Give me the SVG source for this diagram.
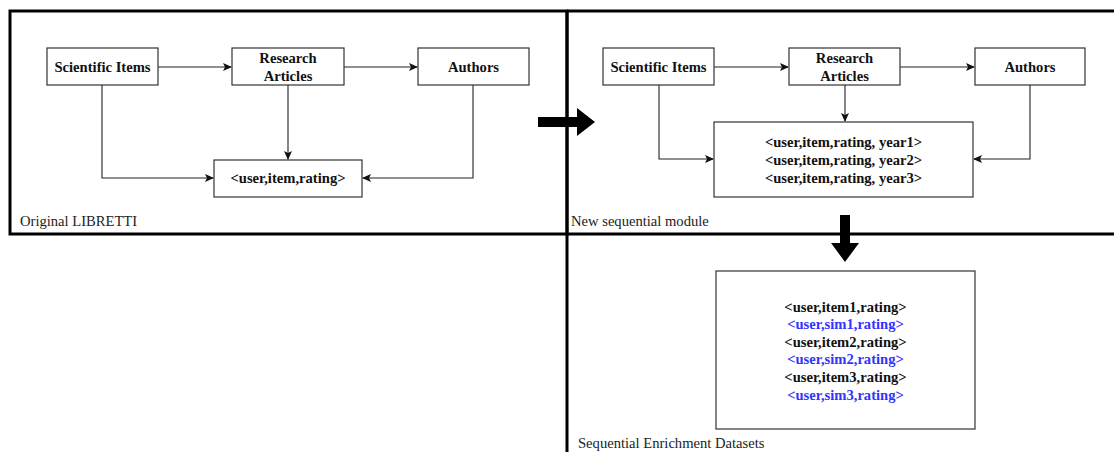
<svg xmlns="http://www.w3.org/2000/svg" width="1114" height="452" viewBox="0 0 1114 452">
<style>
.frame{fill:none;stroke:#000;stroke-width:3}
.node{fill:#fff;stroke:#333;stroke-width:1.2}
.t{font-family:"Liberation Serif",serif;font-weight:bold;font-size:14.6px;fill:#111;text-anchor:middle}
.b{fill:#3333ff}
.lbl{font-family:"Liberation Serif",serif;font-size:14.6px;fill:#222}
.edge{fill:none;stroke:#222;stroke-width:1.1}
.big{fill:#000;stroke:none}
</style>
<defs>
<marker id="ah" markerWidth="10" markerHeight="8" refX="8" refY="4" orient="auto" markerUnits="userSpaceOnUse">
<path d="M0,0 L9,4 L0,8 L2,4 Z" fill="#111"/>
</marker>
</defs>
<rect width="1114" height="452" fill="#fff"/>
<g id="frames">
<rect class="frame" x="10" y="11" width="557" height="223"/>
<line class="frame" x1="567" y1="11" x2="1114" y2="11"/>
<line class="frame" x1="567" y1="234" x2="1114" y2="234"/>
<line class="frame" x1="567" y1="11" x2="567" y2="452"/>
</g>
<g id="labels">
<text class="lbl" x="20" y="226">Original LIBRETTI</text>
<text class="lbl" x="571" y="226">New sequential module</text>
<text class="lbl" x="578" y="448">Sequential Enrichment Datasets</text>
</g>
<g id="connectors">
<line class="edge" x1="158" y1="67" x2="231" y2="67" marker-end="url(#ah)"/>
<line class="edge" x1="344" y1="67" x2="417" y2="67" marker-end="url(#ah)"/>
<polyline class="edge" points="102,85 102,178 213,178" marker-end="url(#ah)"/>
<line class="edge" x1="288" y1="85" x2="288" y2="159" marker-end="url(#ah)"/>
<polyline class="edge" points="473,85 473,178 363,178" marker-end="url(#ah)"/>
<line class="edge" x1="714" y1="67" x2="788" y2="67" marker-end="url(#ah)"/>
<line class="edge" x1="900" y1="67" x2="974" y2="67" marker-end="url(#ah)"/>
<polyline class="edge" points="659,85 659,159 713,159" marker-end="url(#ah)"/>
<line class="edge" x1="845" y1="85" x2="845" y2="121" marker-end="url(#ah)"/>
<polyline class="edge" points="1030,85 1030,159 974,159" marker-end="url(#ah)"/>
<path class="big" d="M538,117 L577,117 L577,108 L595,122 L577,136 L577,127 L538,127 Z"/>
<path class="big" d="M840,215 L850,215 L850,243 L859,243 L845,262 L831,243 L840,243 Z"/>
</g>
<g id="l-si"><rect class="node" x="47" y="48" width="111" height="37"/><text class="t" x="102.5" y="72">Scientific Items</text></g>
<g id="l-ra"><rect class="node" x="232" y="48" width="112" height="37"/><text class="t" x="288" y="63">Research</text><text class="t" x="288" y="81">Articles</text></g>
<g id="l-au"><rect class="node" x="418" y="48" width="111" height="37"/><text class="t" x="473.5" y="72">Authors</text></g>
<g id="l-uir"><rect class="node" x="214" y="160" width="148" height="37"/><text class="t" x="288" y="183">&lt;user,item,rating&gt;</text></g>
<g id="r-si"><rect class="node" x="603" y="48" width="111" height="37"/><text class="t" x="658.5" y="72">Scientific Items</text></g>
<g id="r-ra"><rect class="node" x="789" y="48" width="111" height="37"/><text class="t" x="844.5" y="63">Research</text><text class="t" x="844.5" y="81">Articles</text></g>
<g id="r-au"><rect class="node" x="975" y="48" width="110" height="37"/><text class="t" x="1030" y="72">Authors</text></g>
<g id="r-year"><rect class="node" x="714" y="122" width="259" height="75"/>
<text class="t" x="843.5" y="147">&lt;user,item,rating, year1&gt;</text>
<text class="t" x="843.5" y="165">&lt;user,item,rating, year2&gt;</text>
<text class="t" x="843.5" y="183">&lt;user,item,rating, year3&gt;</text></g>
<g id="enrich"><rect class="node" x="716" y="271" width="259" height="158"/>
<text class="t" x="845.5" y="312">&lt;user,item1,rating&gt;</text>
<text class="t b" x="845.5" y="329">&lt;user,sim1,rating&gt;</text>
<text class="t" x="845.5" y="347">&lt;user,item2,rating&gt;</text>
<text class="t b" x="845.5" y="364">&lt;user,sim2,rating&gt;</text>
<text class="t" x="845.5" y="382">&lt;user,item3,rating&gt;</text>
<text class="t b" x="845.5" y="400">&lt;user,sim3,rating&gt;</text></g>
</svg>
